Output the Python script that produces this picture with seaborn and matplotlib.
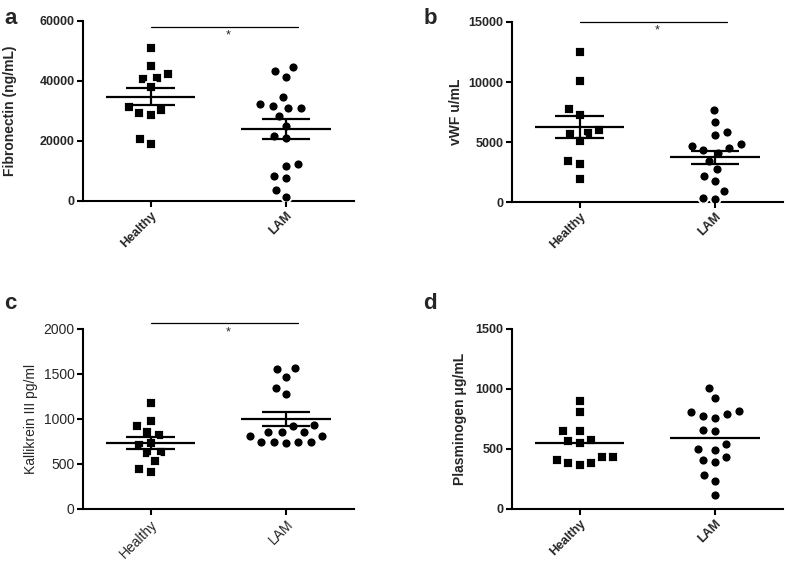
import seaborn as sns
import matplotlib.pyplot as plt
import pandas as pd
import numpy as np

groups = ["Healthy", "LAM"]

# values
fib_healthy = [51100, 44900, 41100, 42300, 40600, 37900, 31400, 29200, 28600, 30300, 20800, 19000]
fib_lam = [44700, 43400, 41400, 34700, 32300, 31100, 31100, 31700, 28400, 25100,
           21700, 21100, 11800, 12300, 8400, 7600, 3600, 1300]

vwf_healthy = [12470, 10080, 7720, 7250, 5750, 6030, 5640, 5080, 3420, 3190, 1890]
vwf_lam = [7670, 6690, 5560, 5830, 4640, 4860, 4330, 4470, 4110, 3440, 2720, 2190,
           1750, 890, 250, 360]

kal_healthy = [1176, 980, 917, 821, 854, 736, 706, 636, 617, 529, 444, 414]
kal_lam = [1553, 1560, 1468, 1346, 1275, 928, 917, 858, 813, 747, 739, 736, 739,
           747, 810, 858, 858]

plg_healthy = [901, 804, 646, 652, 566, 549, 571, 430, 385, 363, 383, 410, 435]
plg_lam = [1006, 920, 810, 818, 773, 760, 790, 646, 660, 499, 491, 538, 435, 388,
           410, 280, 236, 114]

panels = [
    ("a", "Fibronectin (ng/mL)", fib_healthy, fib_lam, [0, 20000, 40000, 60000], True, True, True),
    ("b", "vWF u/mL", vwf_healthy, vwf_lam, [0, 5000, 10000, 15000], True, True, True),
    ("c", "Kallikrein III pg/ml", kal_healthy, kal_lam, [0, 500, 1000, 1500, 2000], True, True, False),
    ("d", "Plasminogen \u03bcg/mL", plg_healthy, plg_lam, [0, 500, 1000, 1500], False, False, True),
]

sns.set_style("ticks")
plt.rcParams["font.family"] = ["Liberation Sans", "DejaVu Sans"]

fig = plt.figure(figsize=(7.87, 5.63), dpi=100)

positions = [
    (0.1055, 0.643, 0.344, 0.32),
    (0.6506, 0.641, 0.344, 0.32),
    (0.1055, 0.096, 0.344, 0.32),
    (0.6506, 0.096, 0.344, 0.32),
]
letter_pos = [(0.005, 0.985), (0.538, 0.985), (0.005, 0.48), (0.538, 0.48)]
label_x = [-0.244, -0.18, -0.166, -0.167]

for (letter, ylabel, h, l, yticks, sem, star, bold), pos, lp, lx in zip(panels, positions, letter_pos, label_x):
    ax = fig.add_axes(pos)
    df = pd.DataFrame({
        "group": ["Healthy"] * len(h) + ["LAM"] * len(l),
        "value": h + l,
    })
    sns.swarmplot(data=df[df.group == "Healthy"], x="group", y="value", order=groups,
                  marker="s", color="black", size=6.8, edgecolor="white", linewidth=1.3, ax=ax)
    sns.swarmplot(data=df[df.group == "LAM"], x="group", y="value", order=groups,
                  marker="o", color="black", size=7.2, edgecolor="white", linewidth=1.3, ax=ax)

    # mean and SEM lines
    for i, g in enumerate(groups):
        vals = np.array(df[df.group == g].value)
        m = vals.mean()
        ax.hlines(m, i - 0.33, i + 0.33, color="black", lw=1.6, zorder=5)
        if sem:
            se = vals.std(ddof=1) / np.sqrt(len(vals))
            ax.hlines([m - se, m + se], i - 0.18, i + 0.18, color="black", lw=1.6, zorder=5)
            ax.vlines(i, m - se, m + se, color="black", lw=1.6, zorder=5)

    top = yticks[-1]
    ax.set_ylim(0, top)
    ax.set_xlim(-0.5, 1.5)
    ax.set_yticks(yticks)
    weight = "bold" if bold else "normal"
    fs = 9 if bold else 10
    ax.set_yticklabels([str(t) for t in yticks], fontsize=fs, fontweight=weight)
    ax.set_xticks([0, 1])
    ax.set_xticklabels(groups, rotation=45, ha="right", rotation_mode="anchor",
                       fontsize=fs, fontweight=weight)
    ax.set_xlabel("")
    ax.set_ylabel(ylabel, fontsize=10, fontweight=weight)
    ax.yaxis.set_label_coords(lx, 0.5)
    sns.despine(ax=ax)
    for s in ["left", "bottom"]:
        ax.spines[s].set_linewidth(1.5)
        ax.spines[s].set_color("black")
    ax.tick_params(width=1.5, length=4, color="black", pad=2)

    if star:
        if letter == "a":
            yl = 58000
        elif letter == "b":
            yl = 15000
        else:
            yl = top * 1.03
        ax.plot([0.0, 1.09], [yl, yl], color="black", lw=0.9, clip_on=False)
        ax.text(0.57, yl - top * 0.015, "*", ha="center", va="top", fontsize=9)

    fig.text(lp[0], lp[1], letter, fontsize=16, fontweight="bold", va="top", ha="left")

plt.savefig("out.png", dpi=100)
